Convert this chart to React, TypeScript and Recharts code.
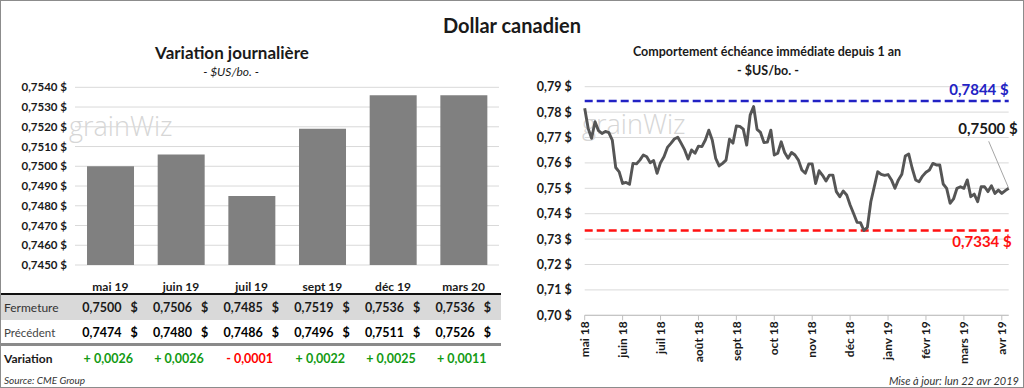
import { BarChart, Bar, XAxis, YAxis, CartesianGrid, LineChart, Line, ReferenceLine, LabelList } from 'recharts';

const FONT = 'Lato, "Open Sans", sans-serif';

// contrats (graphique de gauche + tableau)
const CONTRACTS = ['mai 19', 'juin 19', 'juil 19', 'sept 19', 'déc 19', 'mars 20'];
const FERMETURE = [0.75, 0.7506, 0.7485, 0.7519, 0.7536, 0.7536];
const PRECEDENT = [0.7474, 0.748, 0.7486, 0.7496, 0.7511, 0.7526];
const VARIATION = [0.0026, 0.0026, -0.0001, 0.0022, 0.0025, 0.0011];
const BAR_TICKS = [0.745, 0.746, 0.747, 0.748, 0.749, 0.75, 0.751, 0.752, 0.753, 0.754];

// échéance immédiate, 1 an (graphique de droite)
const MONTHS = ['mai 18', 'juin 18', 'juil 18', 'août 18', 'sept 18', 'oct 18', 'nov 18', 'déc 18', 'janv 19', 'févr 19', 'mars 19', 'avr 19'];
const PRICES = [
  0.7815, 0.7736, 0.7697, 0.7762, 0.7727, 0.7716, 0.7724, 0.7719, 0.769, 0.7582,
  0.7565, 0.7519, 0.7523, 0.7516, 0.7598, 0.7596, 0.7611, 0.7631, 0.7624, 0.7601,
  0.7609, 0.7559, 0.7601, 0.7624, 0.7661, 0.7677, 0.7694, 0.7701, 0.7677, 0.7651,
  0.7615, 0.7651, 0.7638, 0.7666, 0.7664, 0.769, 0.7729, 0.769, 0.7618, 0.7588,
  0.7598, 0.7611, 0.7693, 0.7678, 0.7745, 0.7744, 0.7733, 0.767, 0.7788, 0.7822,
  0.7732, 0.772, 0.768, 0.7682, 0.7729, 0.7631, 0.7638, 0.7683, 0.7641, 0.7618,
  0.7641, 0.7631, 0.7611, 0.7572, 0.7559, 0.7596, 0.7596, 0.7519, 0.7569, 0.7551,
  0.7529, 0.7552, 0.7552, 0.7487, 0.7467, 0.7489, 0.7474, 0.7434, 0.7401, 0.7366,
  0.7365, 0.7334, 0.7346, 0.7447, 0.7506, 0.7565, 0.7555, 0.7551, 0.7554, 0.7533,
  0.75, 0.7533, 0.7555, 0.7627, 0.7635, 0.7579, 0.7533, 0.7526, 0.7548, 0.7563,
  0.7572, 0.7598, 0.7592, 0.7592, 0.7517, 0.75, 0.7441, 0.7458, 0.75, 0.7506,
  0.75, 0.7533, 0.7467, 0.7477, 0.7447, 0.7506, 0.7506, 0.7487, 0.751, 0.748,
  0.7493, 0.748, 0.7491, 0.75,
];
const LINE_TICKS = [0.7, 0.71, 0.72, 0.73, 0.74, 0.75, 0.76, 0.77, 0.78, 0.79];
const HIGH = 0.7844;
const LOW = 0.7334;

const barData = CONTRACTS.map((c, i) => ({ c, v: FERMETURE[i] }));
const lineData = PRICES.map((v, i) => ({ i, v }));

const fmt = (v: number, d: number) => v.toFixed(d).replace('.', ',');
const fmtVar = (v: number) => (v < 0 ? '- ' : '+ ') + fmt(Math.abs(v), 4);

// geometrie du graph de gauche (tableau aligne dessus)
const BAR_LEFT = 75;
const BAR_W = 424;
const COL_W = BAR_W / CONTRACTS.length;

function Txt({ x, y, align = 'center', style, children }: any) {
  const tx = align === 'center' ? '-50%' : align === 'right' ? '-100%' : '0';
  return (
    <div
      style={{
        position: 'absolute', left: x, top: y, transform: `translate(${tx},-50%)`,
        whiteSpace: 'nowrap', lineHeight: 1, ...style,
      }}
    >
      {children}
    </div>
  );
}

const MonthTick = ({ x, y, payload }: any) => (
  <g transform={`translate(${x},${y})`}>
    <text transform="rotate(-90)" textAnchor="end" dy="0.35em" fontSize={12} fontWeight={700} fill="#1a1a1a" fontFamily={FONT}>
      {MONTHS[Math.round(payload.value / 11)]}
    </text>
  </g>
);

const LastLabel = (props: any) => {
  const { x, y, index } = props;
  if (index !== PRICES.length - 1) return null;
  return (
    <g>
      <line x1={x} y1={y} x2={x - 20} y2={y - 47} stroke="#a6a6a6" strokeWidth={1} />
      <text x={x + 9} y={y - 54} textAnchor="end" fontSize={15} fontWeight={700} fill="#1a1a1a" fontFamily={FONT}>
        {fmt(PRICES[index], 4)} $
      </text>
    </g>
  );
};

const refLabel = (value: number, color: string, above: boolean, dx: number) => (p: any) => {
  const vb = p.viewBox || {};
  return (
    <text
      x={vb.x + vb.width + dx}
      y={above ? vb.y - 6 : vb.y + 17}
      textAnchor="end" fontSize={15} fontWeight={700} fill={color} fontFamily={FONT}
    >
      {fmt(value, 4)}  $
    </text>
  );
};

const watermark = { fontSize: 27, color: '#d6d6d6', fontFamily: '"Open Sans", sans-serif', fontWeight: 300 };

export default function App() {
  return (
    <div
      style={{
        position: 'absolute', left: 0, top: 0, width: 1024, height: 388, background: '#fff',
        border: '1px solid #8c8c8c', boxSizing: 'border-box', fontFamily: FONT, color: '#1a1a1a', overflow: 'hidden',
      }}
    >
      <Txt x={511} y={24} style={{ fontSize: 20, fontWeight: 700 }}>Dollar canadien</Txt>

      {/* gauche */}
      <Txt x={231} y={51} style={{ fontSize: 17, fontWeight: 700 }}>Variation journalière</Txt>
      <Txt x={230} y={71} style={{ fontSize: 12, fontStyle: 'italic' }}>- $US/bo. -</Txt>
      <Txt x={68} y={124} align="left" style={watermark}>grainWiz</Txt>

      <div style={{ position: 'absolute', left: -1, top: 79 }}>
        <BarChart width={510} height={220} data={barData} margin={{ top: 7.3, right: 11, bottom: 5, left: 0 }} barCategoryGap="17%">
          <CartesianGrid vertical={false} stroke="#d9d9d9" />
          <YAxis
            type="number" domain={[0.745, 0.754]} ticks={BAR_TICKS} width={BAR_LEFT} axisLine={false} tickLine={false}
            allowDataOverflow interval={0}
            tick={{ fontSize: 11.5, fontWeight: 700, fill: '#1a1a1a', fontFamily: FONT }}
            tickFormatter={(v: number) => `${fmt(v, 4)} $`}
          />
          <XAxis
            dataKey="c" height={30} axisLine={false} tickLine={false} tickMargin={11} interval={0}
            tick={{ fontSize: 12, fontWeight: 700, fill: '#1a1a1a', fontFamily: FONT }}
          />
          <Bar dataKey="v" fill="#808080" isAnimationActive={false} />
        </BarChart>
      </div>

      {/* tableau */}
      <div style={{ position: 'absolute', left: 0, top: 292, width: 500, height: 2, background: '#111' }} />
      <div style={{ position: 'absolute', left: 0, top: 294, width: 500, height: 25, background: '#d9d9d9' }} />
      <div style={{ position: 'absolute', left: 0, top: 342, width: 500, height: 3, background: '#8a8a8a' }} />
      <Txt x={3} y={306.5} align="left" style={{ fontSize: 12, color: '#333' }}>Fermeture</Txt>
      <Txt x={3} y={331.5} align="left" style={{ fontSize: 11.5, color: '#444' }}>Précédent</Txt>
      <Txt x={3} y={358} align="left" style={{ fontSize: 12, fontWeight: 700 }}>Variation</Txt>
      {CONTRACTS.map((c, i) => {
        const right = BAR_LEFT + COL_W * (i + 1) - 9;
        const cx = BAR_LEFT + COL_W * (i + 0.5) - 3;
        return (
          <div key={c}>
            <Txt x={right} y={306.5} align="right" style={{ fontSize: 12.5, fontWeight: 700 }}>
              {fmt(FERMETURE[i], 4)}<span style={{ marginLeft: 9 }}>$</span>
            </Txt>
            <Txt x={right} y={331.5} align="right" style={{ fontSize: 12.5, fontWeight: 700, color: '#000' }}>
              {fmt(PRECEDENT[i], 4)}<span style={{ marginLeft: 9 }}>$</span>
            </Txt>
            <Txt x={cx} y={358} style={{ fontSize: 12.5, fontWeight: 700, color: VARIATION[i] < 0 ? '#ff0000' : '#139a13' }}>
              {fmtVar(VARIATION[i])}
            </Txt>
          </div>
        );
      })}
      <Txt x={3} y={379} align="left" style={{ fontSize: 10, fontStyle: 'italic', color: '#333' }}>Source: CME Group</Txt>

      {/* droite */}
      <Txt x={766} y={51} style={{ fontSize: 12.5, fontWeight: 700 }}>Comportement échéance immédiate depuis 1 an</Txt>
      <Txt x={767} y={69.5} style={{ fontSize: 12.5, fontWeight: 700 }}>- $US/bo. -</Txt>
      <Txt x={581} y={122} align="left" style={watermark}>grainWiz</Txt>

      <div style={{ position: 'absolute', left: 511, top: -1 }}>
        <LineChart width={512} height={388} data={lineData} margin={{ top: 86.7, right: 15.3, bottom: 12.7, left: 0 }}>
          <CartesianGrid vertical={false} stroke="#d9d9d9" />
          <YAxis
            type="number" domain={[0.7, 0.79]} ticks={LINE_TICKS} width={72.7} axisLine={false} tickLine={false}
            tickMargin={7} interval={0}
            tick={{ fontSize: 12.5, fontWeight: 700, fill: '#1a1a1a', fontFamily: FONT }}
            tickFormatter={(v: number) => `${fmt(v, 2)} $`}
          />
          <XAxis
            dataKey="i" height={60} interval={10} tickSize={5} tickMargin={1}
            axisLine={{ stroke: '#bfbfbf' }} tickLine={{ stroke: '#bfbfbf' }} tick={<MonthTick />}
          />
          <ReferenceLine y={HIGH} stroke="#2222c4" strokeWidth={2.5} strokeDasharray="8 4" label={refLabel(HIGH, '#2222c4', true, 0)} />
          <ReferenceLine y={LOW} stroke="#ff1111" strokeWidth={2.5} strokeDasharray="8 4" label={refLabel(LOW, '#ff1111', false, 3)} />
          <Line dataKey="v" stroke="#555555" strokeWidth={2.9} dot={false} isAnimationActive={false} strokeLinejoin="round">
            <LabelList dataKey="v" content={LastLabel} />
          </Line>
        </LineChart>
      </div>
      <Txt x={1018} y={379} align="right" style={{ fontSize: 11, fontStyle: 'italic', color: '#333' }}>Mise à jour: lun 22 avr 2019</Txt>
    </div>
  );
}
